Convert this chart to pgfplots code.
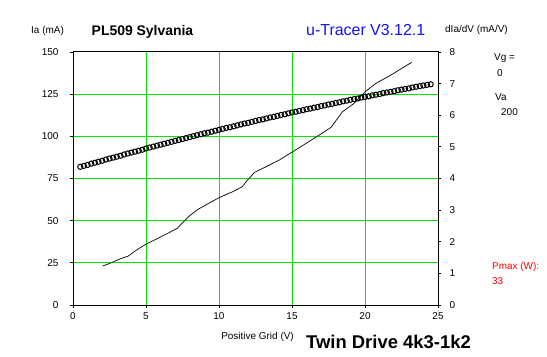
\documentclass[border=0pt]{standalone}
\usepackage{pgfplots}
\pgfplotsset{compat=1.18}
\usepackage{fontspec}
\setmainfont{Liberation Sans}
\definecolor{gridgreen}{RGB}{0,230,0}
\definecolor{tracerblue}{RGB}{20,20,240}
\begin{document}
\begin{tikzpicture}
\path[use as bounding box] (-73bp,-52bp) rectangle (474bp,305bp);
\begin{axis}[
  at={(0,0)}, anchor=south west,
  scale only axis, width=365bp, height=253bp,
  xmin=0, xmax=25, ymin=0, ymax=150,
  xtick={0,5,...,25}, ytick={0,25,...,150},
  xtick pos=bottom, ytick pos=left,
  tick align=outside, major tick length=3bp,
  grid=major,
  major grid style={gridgreen, line width=1bp},
  axis line style={black, line width=1bp},
  tick style={black, line width=0.8bp},
  /pgf/number format/assume math mode=true,
  tick label style={font=\fontsize{10}{12}\selectfont},
  yticklabel style={xshift=-8bp},
  xticklabel style={yshift=-1bp},
]
\addplot[black, line width=0.7bp] coordinates {
(2.03,23.1) (2.64,25.1) (3.21,27.3) (3.78,29.0) (4.35,32.6) (4.99,36.0)
(5.71,39.1) (6.40,42.1) (7.13,45.4) (7.58,49.4) (8.04,53.3) (8.56,56.7)
(9.36,60.6) (10.04,63.8) (10.95,67.2) (11.59,70.1) (11.90,73.5) (12.43,78.6)
(13.46,83.0) (14.14,86.0) (15.05,90.9) (15.96,95.8) (16.87,100.8) (17.67,105.3)
(18.46,114.6) (19.26,119.6) (20.01,126.4) (20.74,131.4) (21.65,135.7) (23.20,143.9)
};
\end{axis}
\begin{axis}[
  at={(0,0)}, anchor=south west,
  scale only axis, width=365bp, height=253bp,
  xmin=0, xmax=25, ymin=0, ymax=8,
  axis x line=none, axis y line*=right,
  ytick={0,1,...,8},
  tick align=outside, major tick length=3bp,
  axis line style={black, line width=1bp},
  tick style={black, line width=0.8bp},
  /pgf/number format/assume math mode=true,
  tick label style={font=\fontsize{10}{12}\selectfont},
  yticklabel style={xshift=5bp},
]
\addplot[only marks, mark=o, mark size=2.6bp, mark options={black, line width=1bp}] coordinates {
(0.50,4.37) (0.75,4.40) (1.00,4.43) (1.25,4.47) (1.50,4.50) (1.75,4.53)
(2.00,4.56) (2.25,4.60) (2.50,4.63) (2.75,4.66) (3.00,4.69) (3.25,4.72)
(3.50,4.76) (3.75,4.79) (4.00,4.82) (4.25,4.85) (4.50,4.88) (4.75,4.91)
(5.00,4.95) (5.25,4.98) (5.50,5.01) (5.75,5.04) (6.00,5.07) (6.25,5.10)
(6.50,5.13) (6.75,5.16) (7.00,5.19) (7.25,5.22) (7.50,5.25) (7.75,5.28)
(8.00,5.31) (8.25,5.34) (8.50,5.37) (8.75,5.40) (9.00,5.43) (9.25,5.45)
(9.50,5.48) (9.75,5.51) (10.00,5.54) (10.25,5.57) (10.50,5.60) (10.75,5.62)
(11.00,5.65) (11.25,5.68) (11.50,5.71) (11.75,5.74) (12.00,5.76) (12.25,5.79)
(12.50,5.82) (12.75,5.85) (13.00,5.87) (13.25,5.90) (13.50,5.93) (13.75,5.95)
(14.00,5.98) (14.25,6.01) (14.50,6.03) (14.75,6.06) (15.00,6.09) (15.25,6.11)
(15.50,6.14) (15.75,6.16) (16.00,6.19) (16.25,6.21) (16.50,6.24) (16.75,6.26)
(17.00,6.29) (17.25,6.31) (17.50,6.34) (17.75,6.36) (18.00,6.39) (18.25,6.41)
(18.50,6.44) (18.75,6.46) (19.00,6.49) (19.25,6.51) (19.50,6.53) (19.75,6.56)
(20.00,6.58) (20.25,6.60) (20.50,6.63) (20.75,6.65) (21.00,6.67) (21.25,6.70)
(21.50,6.72) (21.75,6.74) (22.00,6.76) (22.25,6.79) (22.50,6.81) (22.75,6.83)
(23.00,6.85) (23.25,6.88) (23.50,6.90) (23.75,6.92) (24.00,6.94) (24.25,6.96)
(24.50,6.98)
};
\end{axis}
\begin{scope}[every node/.style={inner sep=0pt, font=\fontsize{10}{12}\selectfont}]
\node[anchor=west] at (-42bp,274bp) {Ia (mA)};
\node[anchor=west, font=\fontsize{14}{16}\selectfont\bfseries] at (18.5bp,273.5bp) {PL509 Sylvania};
\node[anchor=west, text=tracerblue, font=\fontsize{16}{18}\selectfont] at (233bp,274.5bp) {u-Tracer V3.12.1};
\node[anchor=west] at (372bp,275bp) {dIa/dV (mA/V)};
\node[anchor=west] at (421bp,247bp) {Vg =};
\node[anchor=west] at (424bp,232bp) {0};
\node[anchor=west] at (422bp,207.5bp) {Va};
\node[anchor=west] at (428bp,193bp) {200};
\node[anchor=west, text=red] at (419bp,38bp) {Pmax (W):};
\node[anchor=west, text=red] at (419bp,24bp) {33};
\node[anchor=east] at (221bp,-32bp) {Positive Grid (V)};
\node[anchor=west, font=\fontsize{18.5}{21}\selectfont\bfseries] at (233bp,-37bp) {Twin Drive 4k3-1k2};
\end{scope}
\end{tikzpicture}
\end{document}
